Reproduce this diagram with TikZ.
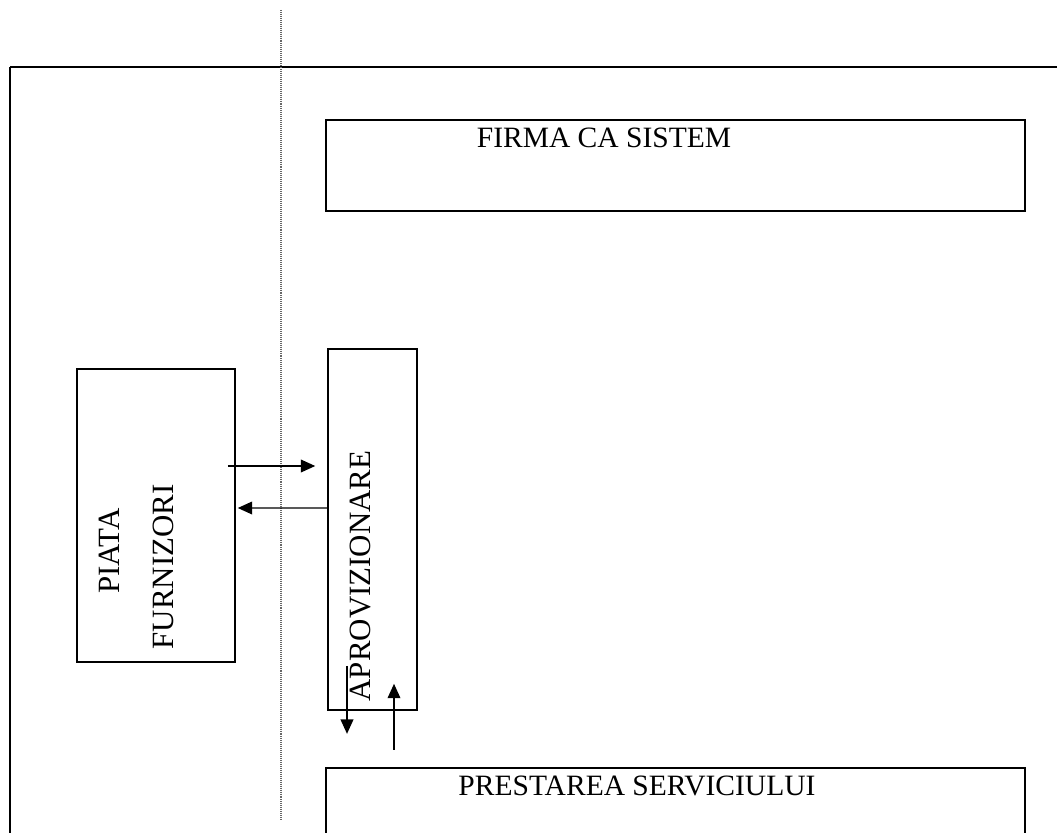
\documentclass[tikz,border=0pt]{standalone}
\usepackage{fontspec}
\setmainfont{Liberation Serif}
\usetikzlibrary{arrows.meta}

\begin{document}
\begin{tikzpicture}[
    x=0.025cm, y=-0.025cm,
    >={Triangle[length=3.6mm, width=3.2mm]},
    box/.style={draw, rectangle, line width=1.1pt, inner sep=0pt},
    txt/.style={font=\fontsize{21}{25}\selectfont, inner sep=0pt},
    vtxt/.style={txt, rotate=90, font=\fontsize{22}{26}\selectfont},
    flow/.style={->, line width=0.9pt}
]

    % Page size
    \useasboundingbox (0,0) rectangle (1057,833);
    \clip (0,0) rectangle (1057,833);

    % Frame of the company
    \draw[line width=1pt] (10,67) -- (1057,67);
    \draw[line width=1.8pt] (10,67) -- (10,833);

    % Border of the market
    \draw[black!60, line width=0.8pt, dash pattern=on 0.7pt off 0.7pt] (281,10) -- (281,820);

    % Boxes
    \node[box, minimum width=17.475cm, minimum height=2.275cm] (firma) at (675.5,165.5) {};
    \node[txt] at (604,138) {FIRMA CA SISTEM};

    \node[box, minimum width=3.95cm, minimum height=7.325cm] (piata) at (156,515.5) {};
    \node[vtxt] at (109,551) {PIATA};
    \node[vtxt] at (163,567) {FURNIZORI};

    \node[box, minimum width=2.225cm, minimum height=9.025cm] (aprov) at (372.5,529.5) {};
    \node[vtxt] at (360,576) {APROVIZIONARE};

    \node[box, minimum width=17.475cm, minimum height=2.275cm] (prest) at (675.5,813.5) {};
    \node[txt] at (637,786) {PRESTAREA SERVICIULUI};

    % Flows between market and supply
    \draw[flow] ([shift={(-8,-49.5)}]piata.east) -- ([shift={(-12,-63.5)}]aprov.west);
    \draw[flow] ([yshift=0.5375cm]aprov.west) -- ([shift={(2,-7.5)}]piata.east);

    % Flows between supply and service
    \draw[flow] ([shift={(-25.5,-45)}]aprov.south) -- ([shift={(-25.5,23)}]aprov.south);
    \draw[flow] ([shift={(21.5,39)}]aprov.south) -- ([shift={(21.5,-27)}]aprov.south);

\end{tikzpicture}
\end{document}
